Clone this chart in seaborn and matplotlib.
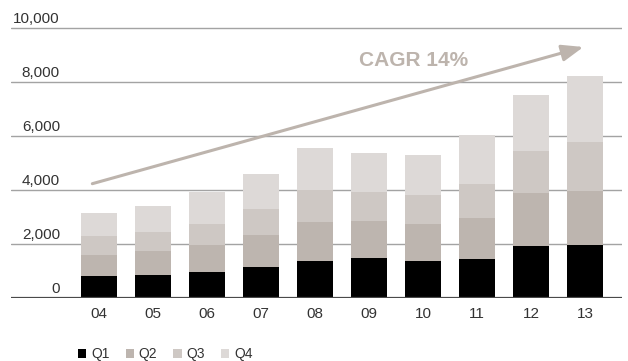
import matplotlib
matplotlib.use("Agg")
import matplotlib.pyplot as plt
import matplotlib.transforms as mtransforms
from matplotlib.patches import Patch
import numpy as np
import pandas as pd
import seaborn as sns

# ---- data ----
years = ["04", "05", "06", "07", "08", "09", "10", "11", "12", "13"]
q1 = [800, 830, 940, 1130, 1350, 1460, 1350, 1430, 1910, 1940]
q2 = [780, 890, 1000, 1190, 1440, 1370, 1370, 1520, 1960, 2000]
q3 = [700, 700, 780, 960, 1190, 1070, 1070, 1260, 1560, 1820]
q4 = [860, 960, 1190, 1300, 1570, 1450, 1480, 1820, 2070, 2440]
quarters = ["Q1", "Q2", "Q3", "Q4"]
y_ticks = [0, 2000, 4000, 6000, 8000, 10000]
y_tick_labels = ["0", "2,000", "4,000", "6,000", "8,000", "10,000"]
cagr_label = "CAGR 14%"
arrow_start = (-0.124, 4215)
arrow_end = (8.97, 9278)

colors = ["#000000", "#bdb5af", "#cec8c4", "#ddd9d7"]
arrow_color = "#bdb4ad"

sns.set_style("white")
plt.rcParams["font.family"] = ["Liberation Sans", "DejaVu Sans"]

df = pd.DataFrame({"year": years, "Q1": q1, "Q2": q2, "Q3": q3, "Q4": q4})
cum = df[quarters].cumsum(axis=1)

fig = plt.figure(figsize=(6.28, 3.61), dpi=100)
ax = fig.add_axes([11 / 628, 1 - 297.5 / 361, 611 / 628, 297 / 361])

# stacked bars: draw cumulative totals from top layer down
for i in range(3, -1, -1):
    sns.barplot(x=df["year"], y=cum[quarters[i]], order=years, color=colors[i],
                width=0.667, ax=ax, saturation=1, linewidth=0, errorbar=None)

ax.set_xlim(-1.63, 9.685)
ax.set_ylim(0, 11000)
ax.set_axisbelow(True)
ax.set_yticks(y_ticks)
ax.yaxis.grid(True, color="#a3a3a3", linewidth=1.0)
ax.tick_params(axis="y", length=0, labelleft=False)
ax.tick_params(axis="x", length=0, pad=7, labelsize=11, labelcolor="#333333")
ax.set_xlabel("")
ax.set_ylabel("")
for s in ax.spines.values():
    s.set_visible(False)
ax.axhline(0, color="#4a4a4a", linewidth=1.6, zorder=5)

# y tick labels sitting above the gridlines
trans = mtransforms.blended_transform_factory(ax.transAxes, ax.transData)
trans = mtransforms.offset_copy(trans, fig=fig, y=3, units="points")
for v, lab in zip(y_ticks, y_tick_labels):
    ax.text(0.080, v, lab, transform=trans, ha="right", va="baseline",
            fontsize=11, color="#333333")

# CAGR arrow and label
ax.annotate("", xy=arrow_end, xytext=arrow_start,
            arrowprops=dict(arrowstyle="-|>,head_length=0.65,head_width=0.25",
                            color=arrow_color, lw=2.2, mutation_scale=20,
                            shrinkA=0, shrinkB=0))
ax.text(5.83, 8796, cagr_label, ha="center", va="center", fontsize=15,
        fontweight="bold", color=arrow_color)

handles = [Patch(facecolor=c, edgecolor="none") for c in colors]
fig.legend(handles, quarters, loc="center left",
           bbox_to_anchor=(78 / 628, 1 - 354 / 361), ncol=4, frameon=False,
           handlelength=0.6, handleheight=0.6, handletextpad=0.35,
           columnspacing=1.15, borderpad=0, borderaxespad=0, fontsize=10,
           labelcolor="#333333")

fig.savefig("out.png", dpi=100)
